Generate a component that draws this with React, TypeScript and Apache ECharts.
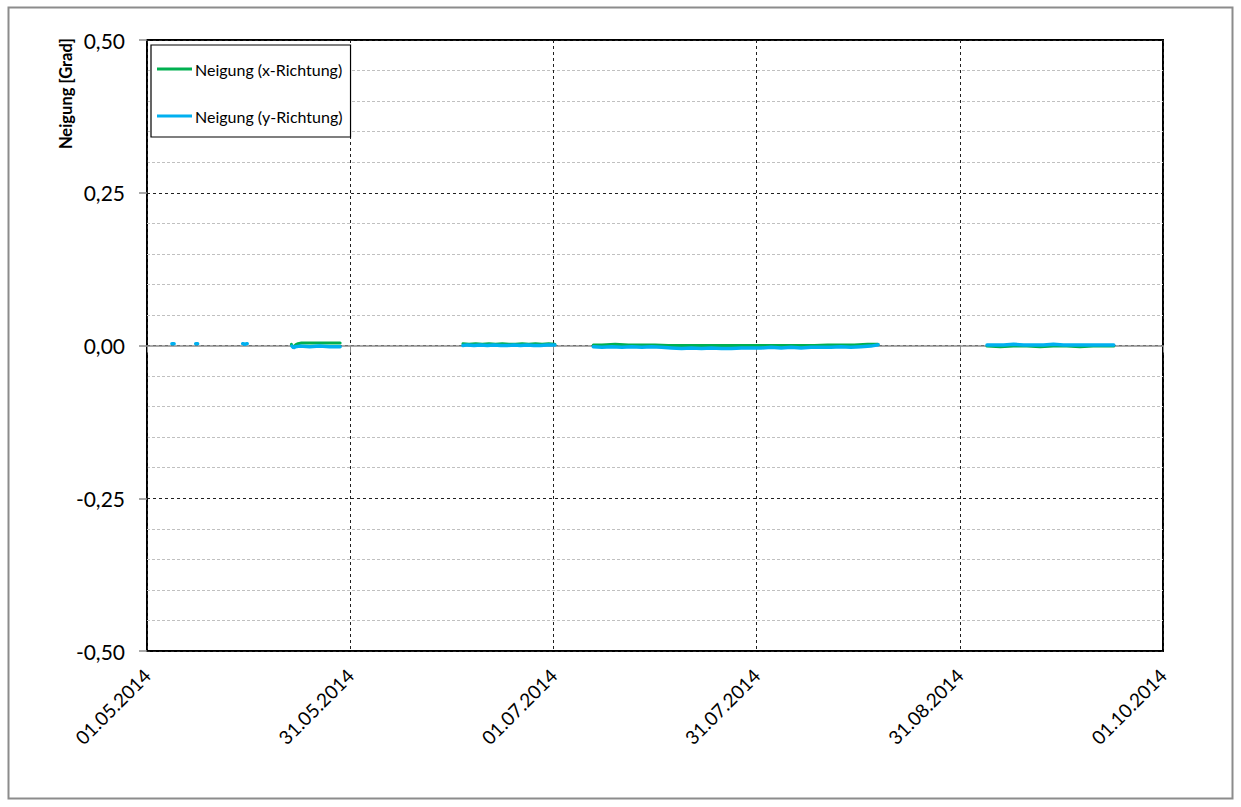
import React, { useEffect, useRef } from "react";
import * as echarts from "echarts";

// x-axis tick labels are derived from day offsets since 01.05.2014
const axisStart = Date.UTC(2014, 4, 1);
const axisDays = 153;
const xTickStep = 30.6;

const yTicks = [-0.5, -0.25, 0, 0.25, 0.5];

const seriesNames = ["Neigung (x-Richtung)", "Neigung (y-Richtung)"];

// Neigung x-Richtung (green)
const tiltXTimes = [
  "2014-05-22 18:00", "2014-05-22 21:00", "2014-05-23 03:00", "2014-05-23 09:00", "2014-05-23 18:00",
  "2014-05-24 06:00", "2014-05-25 12:00", "2014-05-27 00:00", "2014-05-28 12:00", "2014-05-30 02:00",
  "2014-05-31 00:00",
  "2014-06-17 14:00", "2014-06-18 12:00", "2014-06-19 12:00", "2014-06-20 12:00", "2014-06-21 12:00",
  "2014-06-22 12:00", "2014-06-23 12:00", "2014-06-24 12:00", "2014-06-25 12:00", "2014-06-26 12:00",
  "2014-06-27 12:00", "2014-06-28 12:00", "2014-06-29 12:00", "2014-06-30 12:00", "2014-07-01 10:00",
  "2014-07-03 00:00",
  "2014-07-07 05:00", "2014-07-08 12:00", "2014-07-10 12:00", "2014-07-12 12:00", "2014-07-14 12:00",
  "2014-07-16 12:00", "2014-07-18 12:00", "2014-07-20 12:00", "2014-07-22 12:00", "2014-07-24 12:00",
  "2014-07-26 12:00", "2014-07-28 12:00", "2014-07-30 12:00", "2014-08-01 12:00", "2014-08-03 12:00",
  "2014-08-05 12:00", "2014-08-07 12:00", "2014-08-09 12:00", "2014-08-11 12:00", "2014-08-13 12:00",
  "2014-08-15 12:00", "2014-08-17 12:00", "2014-08-19 02:00",
  "2014-08-25 00:00",
  "2014-09-04 12:00", "2014-09-06 12:00", "2014-09-08 12:00", "2014-09-10 12:00", "2014-09-12 12:00",
  "2014-09-14 12:00", "2014-09-16 12:00", "2014-09-18 12:00", "2014-09-20 12:00", "2014-09-22 12:00",
  "2014-09-23 14:00",
];
const tiltXValues = [
  0.002, -0.001, -0.002, 0.001, 0.003,
  0.004, 0.004, 0.004, 0.004, 0.004,
  null,
  0.003, 0.002, 0.003, 0.002, 0.003,
  0.002, 0.003, 0.002, 0.002, 0.003,
  0.002, 0.003, 0.002, 0.003, 0.002,
  null,
  0.001, 0.001, 0.002, 0.001, 0.001,
  0.001, 0.0, 0.0, 0.0, 0.0,
  0.0, 0.0, 0.0, 0.0, 0.0,
  0.0, 0.0, 0.0, 0.001, 0.001,
  0.001, 0.002, 0.002,
  null,
  -0.001, -0.002, -0.001, -0.001, -0.002,
  -0.001, -0.001, -0.002, -0.001, -0.001,
  -0.001,
];

// Neigung y-Richtung (blue)
const tiltYTimes = [
  "2014-05-04 18:00", "2014-05-05 02:00", "2014-05-06 00:00",
  "2014-05-08 08:00", "2014-05-08 15:00", "2014-05-10 00:00",
  "2014-05-15 10:00", "2014-05-15 18:00", "2014-05-16 02:00", "2014-05-18 00:00",
  "2014-05-22 20:00", "2014-05-23 02:00", "2014-05-23 08:00", "2014-05-24 00:00", "2014-05-25 12:00",
  "2014-05-27 00:00", "2014-05-28 12:00", "2014-05-30 02:00",
  "2014-05-31 00:00",
  "2014-06-17 14:00", "2014-06-18 06:00", "2014-06-19 06:00", "2014-06-20 06:00", "2014-06-21 06:00",
  "2014-06-22 06:00", "2014-06-23 06:00", "2014-06-24 06:00", "2014-06-25 06:00", "2014-06-26 06:00",
  "2014-06-27 06:00", "2014-06-28 06:00", "2014-06-29 06:00", "2014-06-30 06:00", "2014-07-01 10:00",
  "2014-07-03 00:00",
  "2014-07-07 05:00", "2014-07-08 12:00", "2014-07-10 00:00", "2014-07-11 12:00", "2014-07-13 00:00",
  "2014-07-14 12:00", "2014-07-16 00:00", "2014-07-17 12:00", "2014-07-19 00:00", "2014-07-20 12:00",
  "2014-07-22 00:00", "2014-07-23 12:00", "2014-07-25 00:00", "2014-07-26 12:00", "2014-07-28 00:00",
  "2014-07-29 12:00", "2014-07-31 00:00", "2014-08-01 12:00", "2014-08-03 00:00", "2014-08-04 12:00",
  "2014-08-06 00:00", "2014-08-07 12:00", "2014-08-09 00:00", "2014-08-10 12:00", "2014-08-12 00:00",
  "2014-08-13 12:00", "2014-08-15 00:00", "2014-08-16 12:00", "2014-08-18 00:00", "2014-08-19 02:00",
  "2014-08-25 00:00",
  "2014-09-04 12:00", "2014-09-05 12:00", "2014-09-07 00:00", "2014-09-08 12:00", "2014-09-10 00:00",
  "2014-09-11 12:00", "2014-09-13 00:00", "2014-09-14 12:00", "2014-09-16 00:00", "2014-09-17 12:00",
  "2014-09-19 00:00", "2014-09-20 12:00", "2014-09-22 00:00", "2014-09-23 14:00",
];
const tiltYValues = [
  0.003, 0.003, null,
  0.003, 0.003, null,
  0.003, 0.002, 0.003, null,
  -0.001, -0.004, -0.002, -0.001, -0.002,
  -0.001, -0.002, -0.002,
  null,
  0.0, 0.001, 0.0, 0.001, 0.0,
  0.001, 0.0, 0.0, 0.001, 0.0,
  0.001, 0.0, 0.0, 0.001, 0.001,
  null,
  -0.002, -0.003, -0.002, -0.003, -0.002,
  -0.003, -0.002, -0.003, -0.004, -0.005,
  -0.004, -0.005, -0.004, -0.005, -0.005,
  -0.004, -0.004, -0.004, -0.003, -0.004,
  -0.003, -0.004, -0.003, -0.003, -0.003,
  -0.002, -0.003, -0.002, -0.001, 0.001,
  null,
  0.001, 0.001, 0.001, 0.002, 0.001,
  0.001, 0.001, 0.002, 0.001, 0.001,
  0.001, 0.001, 0.001, 0.001,
];

const toDays = (s: string) =>
  (Date.parse(s.replace(" ", "T") + ":00Z") - axisStart) / 86400000;

const pairs = (times: string[], values: (number | null)[]) =>
  times.map((t, i) => [toDays(t), values[i] === null ? "-" : values[i]]);

const fmtDate = (v: number) => {
  const d = new Date(axisStart + v * 86400000 + 1000);
  const dd = String(d.getUTCDate()).padStart(2, "0");
  const mm = String(d.getUTCMonth() + 1).padStart(2, "0");
  return `${dd}.${mm}.${d.getUTCFullYear()}`;
};

const FONT = "Lato, 'Noto Sans', sans-serif";

export default function App() {
  const ref = useRef<HTMLDivElement>(null);

  useEffect(() => {
    if (!ref.current) return;
    const chart = echarts.init(ref.current, undefined, { renderer: "svg" });
    chart.setOption({
      animation: false,
      backgroundColor: "#ffffff",
      textStyle: { fontFamily: FONT },
      grid: {
        left: 147,
        top: 40,
        width: 1016,
        height: 611,
        show: true,
        borderColor: "#000000",
        borderWidth: 2,
        backgroundColor: "transparent",
      },
      legend: {
        orient: "vertical",
        left: 151,
        top: 45,
        padding: [16, 8, 13, 6],
        itemGap: 31,
        itemWidth: 35,
        itemHeight: 3,
        icon: "rect",
        borderColor: "#000000",
        borderWidth: 1.2,
        backgroundColor: "#ffffff",
        textStyle: { fontFamily: FONT, fontSize: 16, color: "#000000", padding: [0, 0, 0, -2] },
        data: seriesNames,
      },
      xAxis: [
        {
          type: "value",
          min: 0,
          max: axisDays,
          interval: xTickStep,
          position: "bottom",
          axisLine: { show: false, onZero: false },
          axisTick: { show: false },
          axisLabel: {
            rotate: 45,
            margin: 21,
            fontSize: 19,
            fontFamily: FONT,
            color: "#000000",
            showMaxLabel: true,
            showMinLabel: true,
            formatter: (v: number) => fmtDate(v),
          },
          splitLine: {
            show: true,
            lineStyle: { color: "#202020", type: [3, 3], width: 1 },
          },
        },
        {
          type: "value",
          min: 0,
          max: axisDays,
          interval: xTickStep,
          position: "bottom",
          axisLine: { show: true, onZero: true, lineStyle: { color: "#8c8c8c", width: 1.5 } },
          axisTick: { show: true, inside: false, length: 7, lineStyle: { color: "#8c8c8c" } },
          axisLabel: { show: false },
          splitLine: { show: false },
        },
      ],
      yAxis: {
        type: "value",
        min: yTicks[0],
        max: yTicks[yTicks.length - 1],
        interval: 0.25,
        axisLine: { show: false },
        axisTick: { show: true, length: 8, lineStyle: { color: "#8c8c8c", width: 1.5 } },
        axisLabel: {
          margin: 22,
          fontSize: 21,
          fontFamily: FONT,
          color: "#000000",
          formatter: (v: number) => v.toFixed(2).replace(".", ","),
        },
        splitLine: {
          show: true,
          lineStyle: { color: "#202020", type: [3, 3], width: 1 },
        },
        minorTick: { show: false, splitNumber: 5 },
        minorSplitLine: {
          show: true,
          lineStyle: { color: "#c0c0c0", type: [3, 2], width: 1 },
        },
      },
      series: [
        {
          name: seriesNames[0],
          type: "line",
          xAxisIndex: 0,
          data: pairs(tiltXTimes, tiltXValues),
          showSymbol: false,
          symbol: "none",
          connectNulls: false,
          lineStyle: { color: "#00B050", width: 3, cap: "round" },
          itemStyle: { color: "#00B050" },
          z: 3,
        },
        {
          name: seriesNames[1],
          type: "line",
          xAxisIndex: 0,
          data: pairs(tiltYTimes, tiltYValues),
          showSymbol: false,
          symbol: "none",
          connectNulls: false,
          lineStyle: { color: "#00B0F0", width: 3.5, cap: "round" },
          itemStyle: { color: "#00B0F0" },
          z: 4,
        },
      ],
      graphic: [
        {
          type: "rect",
          silent: true,
          shape: { x: 8.5, y: 7.5, width: 1224, height: 791 },
          style: { fill: "none", stroke: "#8c8c8c", lineWidth: 2 },
          z: 0,
        },
        {
          type: "text",
          x: 66,
          y: 38,
          rotation: Math.PI / 2,
          style: {
            text: "Neigung [Grad]",
            fontFamily: FONT,
            fontSize: 16.5,
            fontWeight: "bold",
            fill: "#000000",
            align: "right",
            verticalAlign: "middle",
          },
        },
      ],
    });
    return () => chart.dispose();
  }, []);

  return (
    <div
      ref={ref}
      style={{ position: "fixed", left: 0, top: 0, width: 1241, height: 807, background: "#fff" }}
    />
  );
}
